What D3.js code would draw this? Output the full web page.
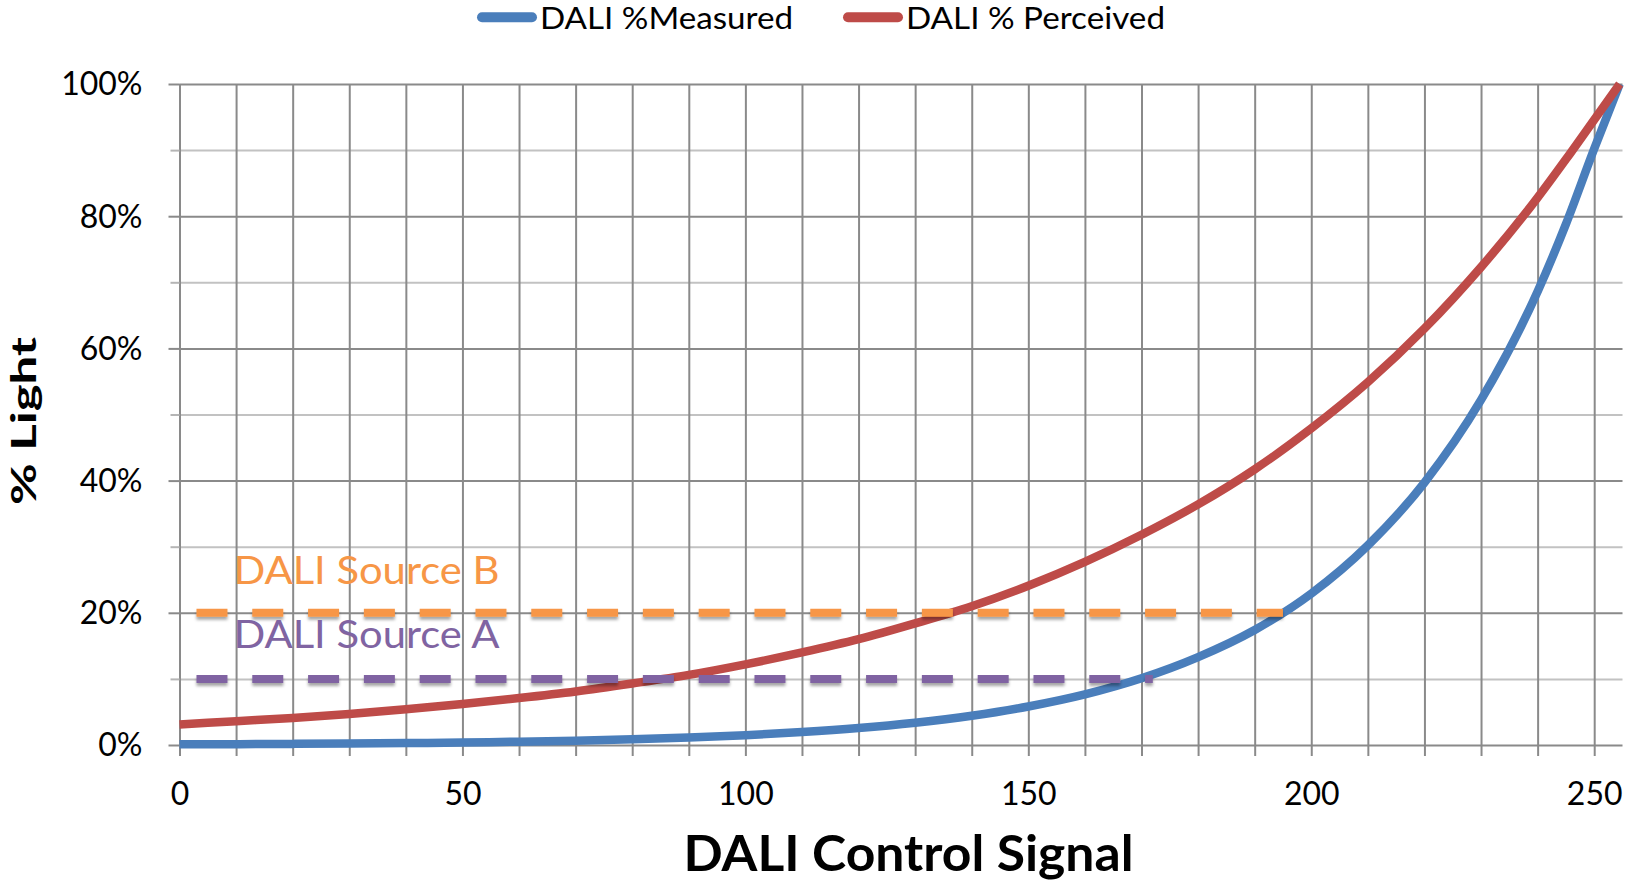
<!DOCTYPE html>
<html>
<head>
<meta charset="utf-8">
<script src="https://cdn.jsdelivr.net/npm/d3@7/dist/d3.min.js"></script>
<style>
    body { margin: 0; background: #fff; }
    text { font-family: Lato, "Open Sans", sans-serif; fill: #000; }
</style>
</head>
<body>
<div id="chart-area"></div>
<script>
// values
const signal = [0, 10, 20, 30, 40, 50, 60, 70, 80, 90, 100, 110, 120, 130, 140, 150, 160, 170, 180, 190, 200, 210, 220, 230, 240, 245, 250, 254.5]
const measured = [0.10, 0.13, 0.17, 0.22, 0.29, 0.38, 0.50, 0.65, 0.86, 1.13, 1.48, 1.95, 2.56, 3.37, 4.43, 5.83, 7.66, 10.1, 13.3, 17.4, 22.9, 30.2, 39.7, 52.2, 68.6, 78.8, 90.2, 100]
const perceived = [3.1, 3.6, 4.1, 4.7, 5.4, 6.2, 7.1, 8.1, 9.3, 10.6, 12.2, 14.0, 16.0, 18.4, 21.0, 24.1, 27.7, 31.8, 36.4, 41.7, 47.9, 54.9, 63.0, 72.3, 82.8, 88.6, 94.6, 100]
const seriesNames = ["DALI %Measured", "DALI % Perceived"]

const sourceNames = ["DALI Source B", "DALI Source A"]
const sourceLevels = [20, 10]
const sourceFrom = [3, 3]
const sourceTo = [195, 172]

const xTicks = [0, 50, 100, 150, 200, 250]
const yTicks = [0, 20, 40, 60, 80, 100]

const MARGIN = { LEFT: 179.5, RIGHT: 4.5, TOP: 84, BOTTOM: 137 }
const WIDTH = 1627 - MARGIN.LEFT - MARGIN.RIGHT
const HEIGHT = 882 - MARGIN.TOP - MARGIN.BOTTOM

const COLORS = { blue: "#4a7ebb", red: "#be4b48", orange: "#f79646", purple: "#8064a2" }

const svg = d3.select("#chart-area")
    .append("svg")
    .attr("width", 1627)
    .attr("height", 882)

// soft shadow under the dashed source lines
svg.append("defs")
    .append("filter")
    .attr("id", "shadow")
    .attr("filterUnits", "userSpaceOnUse")
    .attr("x", -200).attr("y", -100)
    .attr("width", 1800).attr("height", 1000)
    .append("feDropShadow")
    .attr("dx", 0).attr("dy", 3)
    .attr("stdDeviation", 1.8)
    .attr("flood-color", "#000")
    .attr("flood-opacity", 0.35)

const g = svg.append("g")
    .attr("transform", `translate(${MARGIN.LEFT}, ${MARGIN.TOP})`)

const x = d3.scaleLinear().domain([0, 255]).range([0, WIDTH])
const y = d3.scaleLinear().domain([0, 100]).range([HEIGHT, 0])

const minorX = d3.range(0, 251, 10)
const minorY = d3.range(0, 101, 10)

// horizontal grid
const gridY = g.append("g")
    .call(d3.axisLeft(y).tickValues(minorY).tickSize(-WIDTH).tickFormat(""))
gridY.select(".domain").remove()
gridY.selectAll(".tick line")
    .attr("stroke", d => d % 20 === 0 ? "#8a8a8a" : "#c2c2c2")
    .attr("stroke-width", 2)

// vertical grid
const gridX = g.append("g")
    .attr("transform", `translate(0, ${HEIGHT})`)
    .call(d3.axisBottom(x).tickValues(minorX).tickSize(-HEIGHT).tickFormat(""))
gridX.select(".domain").remove()
gridX.selectAll(".tick line")
    .attr("stroke", "#8a8a8a")
    .attr("stroke-width", 2)

// y axis ticks + labels
const yAxis = g.append("g")
    .call(d3.axisLeft(y).tickValues(minorY).tickSize(11).tickPadding(26)
        .tickFormat(d => yTicks.includes(d) ? d + "%" : ""))
yAxis.select(".domain").remove()
yAxis.selectAll(".tick line")
    .attr("stroke", d => d % 20 === 0 ? "#8a8a8a" : "#b5b5b5")
    .attr("stroke-width", 2)
    .attr("x2", d => d % 20 === 0 ? -11 : -9)
yAxis.selectAll(".tick text")
    .attr("dy", "0.34em")
    .style("font-size", "32px")
    .style("font-family", "Lato, sans-serif")
    .attr("fill", "#000")

// x axis ticks + labels
const xAxis = g.append("g")
    .attr("transform", `translate(0, ${HEIGHT})`)
    .call(d3.axisBottom(x).tickValues(minorX).tickSize(11).tickPadding(26)
        .tickFormat(d => xTicks.includes(d) ? d : ""))
xAxis.select(".domain").remove()
xAxis.selectAll(".tick line")
    .attr("stroke", "#8a8a8a")
    .attr("stroke-width", 2)
xAxis.selectAll(".tick text")
    .style("font-size", "32px")
    .style("font-family", "Lato, sans-serif")
    .attr("fill", "#000")

// axis titles
svg.append("text")
    .attr("x", 908.5)
    .attr("y", 871)
    .attr("text-anchor", "middle")
    .attr("textLength", 450)
    .attr("lengthAdjust", "spacingAndGlyphs")
    .style("font-size", "50px")
    .style("font-weight", "bold")
    .text("DALI Control Signal")

svg.append("text")
    .attr("transform", "translate(36, 421) rotate(-90)")
    .attr("text-anchor", "middle")
    .attr("textLength", 168)
    .attr("lengthAdjust", "spacingAndGlyphs")
    .style("font-size", "35px")
    .style("font-weight", "bold")
    .text("% Light")

// curves
const line = d3.line()
    .x(d => x(d.x))
    .y(d => y(d.y))
    .curve(d3.curveMonotoneX)

const measuredPts = signal.map((s, i) => ({ x: s, y: measured[i] }))
const perceivedPts = signal.map((s, i) => ({ x: s, y: perceived[i] }))

g.append("path")
    .datum(measuredPts)
    .attr("fill", "none")
    .attr("stroke", COLORS.blue)
    .attr("stroke-width", 8.5)
    .attr("d", line)

g.append("path")
    .datum(perceivedPts)
    .attr("fill", "none")
    .attr("stroke", COLORS.red)
    .attr("stroke-width", 8.5)
    .attr("d", line)

// source levels (dashed)
const sourceColors = [COLORS.orange, COLORS.purple]
sourceNames.forEach((name, i) => {
    g.append("line")
        .attr("x1", x(sourceFrom[i]))
        .attr("x2", x(sourceTo[i]))
        .attr("y1", y(sourceLevels[i]))
        .attr("y2", y(sourceLevels[i]))
        .attr("stroke", sourceColors[i])
        .attr("stroke-width", 8)
        .attr("stroke-dasharray", "31 24.8")
        .attr("filter", "url(#shadow)")

    g.append("text")
        .attr("x", x(sourceFrom[i]) + 37)
        .attr("y", y(sourceLevels[i]) - 29 - i * 1.5)
        .attr("textLength", 266)
        .attr("lengthAdjust", "spacingAndGlyphs")
        .style("font-size", "38px")
        .style("fill", sourceColors[i])
        .text(name)
})

// legend
const legendX = [477, 843]
const legendColors = [COLORS.blue, COLORS.red]
const legendWidths = [253, 259]
seriesNames.forEach((name, i) => {
    svg.append("line")
        .attr("x1", legendX[i] + 5)
        .attr("x2", legendX[i] + 55)
        .attr("y1", 17.3)
        .attr("y2", 17.3)
        .attr("stroke", legendColors[i])
        .attr("stroke-width", 10)
        .attr("stroke-linecap", "round")

    svg.append("text")
        .attr("x", legendX[i] + 63)
        .attr("y", 29)
        .attr("textLength", legendWidths[i])
        .attr("lengthAdjust", "spacingAndGlyphs")
        .style("font-size", "30px")
        .text(name)
})
</script>
</body>
</html>
